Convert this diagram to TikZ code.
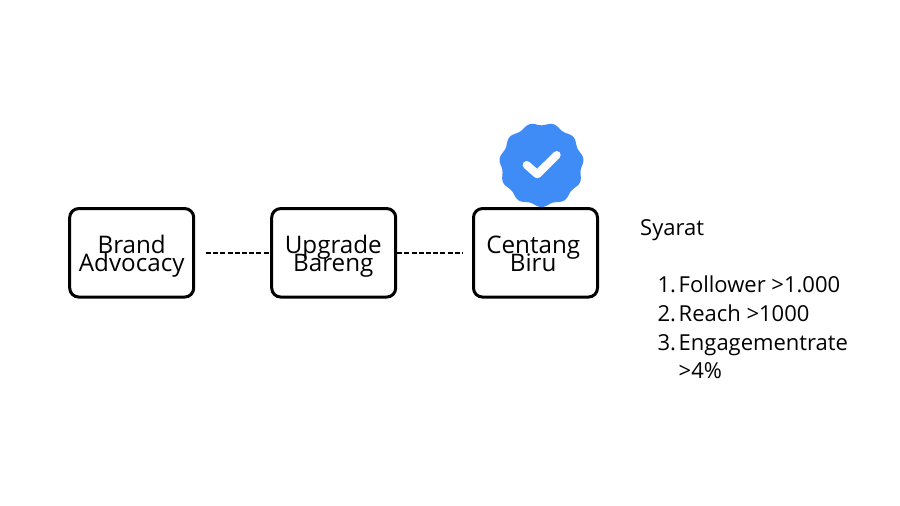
\documentclass[tikz,border=0pt]{standalone}
\usepackage{fontspec}
\setmainfont{Open Sans}
\definecolor{badge}{HTML}{3F8CF7}
\newcommand{\toprl}{\rule{0pt}{18pt}}
\newcommand{\botrl}{\rule[-6pt]{0pt}{6pt}}
\newcommand{\tightlines}{\lineskiplimit=-100pt\relax}
\tikzset{
  boxst/.style={draw=black,line width=3pt,rounded corners=9pt,minimum width=124pt,minimum height=88.5pt,fill=white,inner sep=0pt},
  lbl/.style={font=\fontsize{24.2}{18.3}\selectfont\tightlines,align=center,inner sep=0pt,text=black},
  li/.style={font=\fontsize{22}{25}\selectfont,anchor=base west,inner sep=0pt,text=black},
  dashline/.style={draw=black,line width=1.6pt,dash pattern=on 5pt off 2.2pt}
}
\begin{document}
\begin{tikzpicture}[x=1pt,y=-1pt]
\useasboundingbox (0,0) rectangle (900,506);
\fill[white] (0,0) rectangle (900,506);
\node[boxst] (a) at (131.7,252.8) {};
\node[boxst] (b) at (333.7,252.8) {};
\node[boxst] (c) at (535.5,252.8) {};
\node[lbl] (ta) at (131.7,256.4) {\toprl Brand\\\botrl Advocacy};
\node[lbl] (tb) at (333.3,256.4) {\toprl Upgrade\\\botrl Bareng};
\node[lbl] (tc) at (533.2,256.4) {\toprl Centang\\\botrl Biru};
\coordinate (s) at (206,252.8);
\coordinate (e) at (463,252.8);
\draw[dashline] (s) -- (b.west);
\draw[dashline] (b.east) -- (e);
\fill[badge,smooth] plot[domain=0:360,samples=133,variable=\t] ({541.5+(40.9+1.4*cos(11*\t))*sin(\t+180)},{164.8-(40.9+1.4*cos(11*\t))*cos(\t+180)}) -- cycle;
\draw[white,line width=8pt,line cap=round,line join=round] (526.7,165) -- (537.3,174.3) -- (556.7,155);
\node[li] (h) at (640,235.7) {Syarat};
\node[li] (n1) at (657.3,292.7) {1.};
\node[li] (t1) at (678.5,292.7) {Follower >1.000};
\node[li] (n2) at (657.3,321.7) {2.};
\node[li] (t2) at (678.5,321.7) {Reach >1000};
\node[li] (n3) at (657.3,350.7) {3.};
\node[li] (t3) at (678.5,350.7) {Engagementrate};
\node[li] (t4) at (678.5,378.7) {>4\%};
\end{tikzpicture}
\end{document}
